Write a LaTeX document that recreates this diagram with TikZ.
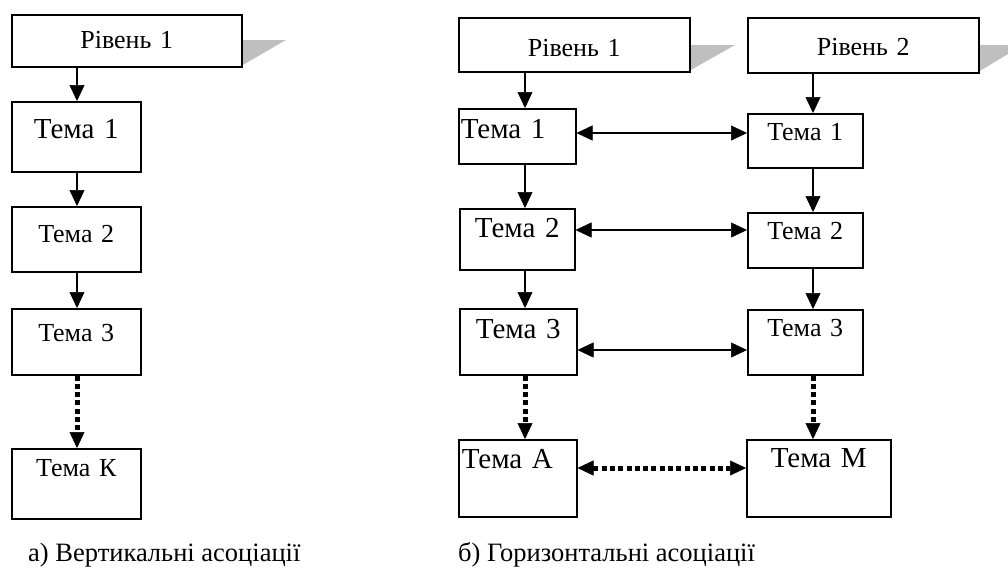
\documentclass[tikz,border=0pt]{standalone}
\usepackage{fontspec}
\setmainfont{Liberation Serif}
\usetikzlibrary{arrows.meta}
\tikzset{
  bx/.style={draw, line width=1.5pt, fill=white, inner xsep=0pt, inner ysep=0pt, anchor=north west, rectangle},
  big/.style={font=\fontsize{29}{34}\selectfont},
  sml/.style={font=\fontsize{26}{31}\selectfont},
  tip/.tip={Triangle[length=16pt,width=15pt,line width=0.5pt]},
  arr/.style={line width=2pt, -tip},
  darr/.style={line width=2pt, tip-tip},
  dotarr/.style={line width=5pt, dash pattern=on 5pt off 3.3pt, -tip},
  dotdarr/.style={line width=5pt, dash pattern=on 5pt off 3.3pt, tip-tip},
  shadowfill/.style={fill=black!25, draw=none},
  caption/.style={font=\fontsize{26.5}{31}\selectfont, anchor=base west, inner sep=0pt}
}
\begin{document}
\begin{tikzpicture}[x=1pt,y=-1pt]
\useasboundingbox (0,0) rectangle (1008,574);
% shadows
\fill[shadowfill] (241,40) -- (286,40) -- (241,66) -- cycle;
\fill[shadowfill] (689,45) -- (735,45) -- (689,71) -- cycle;
\fill[shadowfill] (978,45) -- (1023,45) -- (978,72) -- cycle;
% left column
\node[bx,sml,text width=230pt,text height=33.6pt,text depth=18.4pt,align=center] (rl) at (11,14) {Рівень 1};
\node[bx,big,text width=129pt,text height=36.6pt,text depth=33.4pt,align=center] (t1l) at (11,101) {Тема 1\hspace*{13pt}};
\node[bx,sml,text width=129pt,text height=35.6pt,text depth=29.4pt,align=center] (t2l) at (11,206) {Тема 2};
\node[bx,sml,text width=129pt,text height=32.6pt,text depth=33.4pt,align=center] (t3l) at (11,308) {Тема 3};
\node[bx,sml,text width=129pt,text height=27.6pt,text depth=42.4pt,align=center] (tkl) at (11,448) {Тема К};
% right part
\node[bx,sml,text width=231pt,text height=38.3pt,text depth=15.7pt,align=center] (rr1) at (458,17) {Рівень 1};
\node[bx,sml,text width=231pt,text height=37.4pt,text depth=17.6pt,align=center] (rr2) at (747,17) {Рівень 2};
\node[bx,big,text width=117pt,text height=29.9pt,text depth=25.1pt,align=left] (t1r1) at (458,108) {\hspace*{2pt}Тема 1};
\node[bx,sml,text width=115pt,text height=26.9pt,text depth=27.1pt,align=center] (t1r2) at (747,113) {Тема 1};
\node[bx,big,text width=115pt,text height=28.3pt,text depth=32.7pt,align=center] (t2r1) at (459,208) {Тема 2};
\node[bx,sml,text width=115pt,text height=26.3pt,text depth=28.7pt,align=center] (t2r2) at (747,212) {Тема 2};
\node[bx,big,text width=117pt,text height=29.9pt,text depth=36.1pt,align=center] (t3r1) at (459,308) {Тема 3};
\node[bx,sml,text width=115pt,text height=26.3pt,text depth=38.7pt,align=center] (t3r2) at (747,309) {Тема 3};
\node[bx,big,text width=118pt,text height=28.9pt,text depth=48.1pt,align=left] (ta) at (458,439) {\hspace*{3pt}Тема А};
\node[bx,big,text width=144pt,text height=27.3pt,text depth=49.7pt,align=center] (tm) at (746,439) {Тема М};
% column and row guides
\coordinate (cl) at (77,0);
\coordinate (cr1) at (525,0);
\coordinate (cr2) at (813,0);
\coordinate (h1) at (0,133);
\coordinate (h2) at (0,230);
\coordinate (h3) at (0,350);
\coordinate (h4) at (0,468);
% vertical arrows left
\draw[arr] (cl |- rl.south) -- (cl |- t1l.north);
\draw[arr] (cl |- t1l.south) -- (cl |- t2l.north);
\draw[arr] (cl |- t2l.south) -- (cl |- t3l.north);
\draw[dotarr] (cl |- t3l.south) -- (cl |- tkl.north);
% vertical arrows right
\draw[arr] (cr1 |- rr1.south) -- (cr1 |- t1r1.north);
\draw[arr] (cr1 |- t1r1.south) -- (cr1 |- t2r1.north);
\draw[arr] (cr1 |- t2r1.south) -- (cr1 |- t3r1.north);
\draw[dotarr] (cr1 |- t3r1.south) -- (cr1 |- ta.north);
\draw[arr] (cr2 |- rr2.south) -- (cr2 |- t1r2.north);
\draw[arr] (cr2 |- t1r2.south) -- (cr2 |- t2r2.north);
\draw[arr] (cr2 |- t2r2.south) -- (cr2 |- t3r2.north);
\draw[dotarr] (cr2 |- t3r2.south) -- (cr2 |- tm.north);
% horizontal arrows
\draw[darr] (t1r1.east |- h1) -- (t1r2.west |- h1);
\draw[darr] (t2r1.east |- h2) -- (t2r2.west |- h2);
\draw[darr] (t3r1.east |- h3) -- (t3r2.west |- h3);
\draw[dotdarr] (ta.east |- h4) -- (tm.west |- h4);
% captions
\node[caption] (capa) at (28,561) {а) Вертикальні асоціації};
\node[caption] (capb) at (458,561) {б) Горизонтальні асоціації};
\end{tikzpicture}
\end{document}
